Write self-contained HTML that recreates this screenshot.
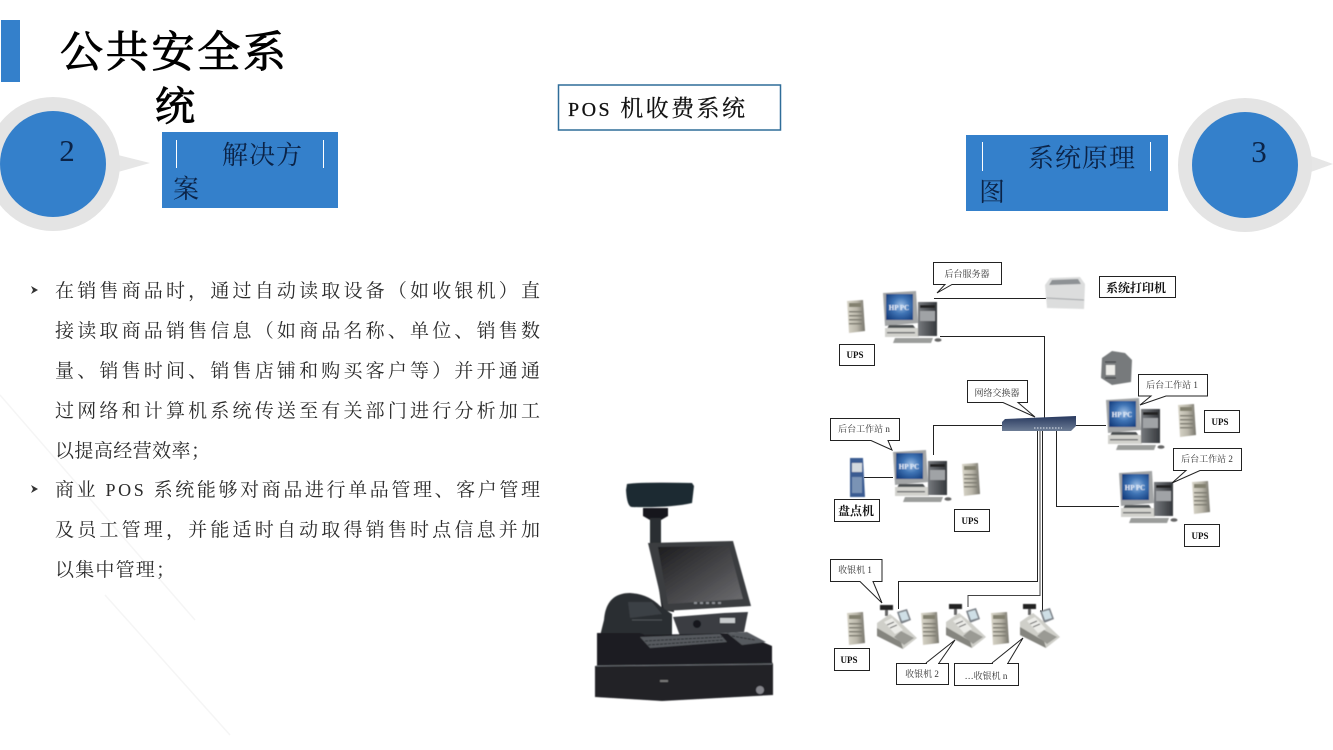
<!DOCTYPE html>
<html lang="zh">
<head>
<meta charset="utf-8">
<title>POS 机收费系统</title>
<style>
html,body{margin:0;padding:0;background:#fff;width:1333px;height:750px;overflow:hidden}
svg{display:block}
text{font-family:"Liberation Serif","Noto Serif CJK SC",serif}
.b{font-size:19px;fill:#2b2b2b}
.l{font-size:9px;fill:#333;text-anchor:middle}
.u{font-size:9px;fill:#111;text-anchor:middle;font-weight:700}
.k{fill:#fff;stroke:#222;stroke-width:1}
.w{fill:none;stroke:#222;stroke-width:1}
.h{font-size:26px;fill:#0b2347}
.hp{font-size:7px;fill:#e8f0fa;font-weight:700;text-anchor:middle}
</style>
</head>
<body>
<svg width="1333" height="750" viewBox="0 0 1333 750" xmlns="http://www.w3.org/2000/svg">
<defs>
<filter id="sf" x="-5%" y="-5%" width="110%" height="110%"><feGaussianBlur stdDeviation="0.45"/></filter>
<radialGradient id="scr" cx=".55" cy=".45" r=".7"><stop offset="0" stop-color="#9fc0e6"/><stop offset=".45" stop-color="#3f74b5"/><stop offset="1" stop-color="#123a7a"/></radialGradient>
<linearGradient id="gry" x1="0" y1="0" x2="1" y2="0"><stop offset="0" stop-color="#d9d6c9"/><stop offset=".55" stop-color="#b9b6a9"/><stop offset="1" stop-color="#77756c"/></linearGradient>
<linearGradient id="lcd" x1="0" y1="0" x2="1" y2="1"><stop offset="0" stop-color="#1d1d1f"/><stop offset=".6" stop-color="#4c4c4f"/><stop offset="1" stop-color="#6f6f72"/></linearGradient>
<linearGradient id="twr" x1="0" y1="0" x2="1" y2="0"><stop offset="0" stop-color="#777a7e"/><stop offset="1" stop-color="#35383c"/></linearGradient>
<linearGradient id="sw" x1="0" y1="0" x2="0" y2="1"><stop offset="0" stop-color="#27385e"/><stop offset="1" stop-color="#6d7d96"/></linearGradient>
<symbol id="pc" width="58" height="54" viewBox="0 0 58 54" overflow="visible">
<path d="M0 2 33 0 35 32 2 35Z" fill="#a3a5a6"/>
<rect x="3" y="3" width="27" height="26" fill="url(#scr)"/>
<text class="hp" x="16" y="19">HP PC</text>
<path d="M6 34H30L33 38H4Z" fill="#4e5153"/>
<rect x="2" y="37" width="34" height="9" fill="#d2d2cd"/>
<rect x="4" y="41" width="28" height="1.500" fill="#6f7172"/>
<rect x="35" y="11" width="19" height="34" fill="url(#twr)"/>
<rect x="37" y="14" width="15" height="3" fill="#222"/>
<rect x="37" y="20" width="15" height="10" fill="#a0a3a6"/>
<path d="M12 47H50L48 52H10Z" fill="#9b9d9b"/>
<ellipse cx="55" cy="49" rx="3.500" ry="1.800" fill="#666"/>
</symbol>
<symbol id="ups" width="20" height="33" viewBox="0 0 20 33" overflow="visible">
<path d="M1 1 17 0 19 31 3 33Z" fill="url(#gry)"/>
<rect x="3" y="3" width="12" height="4" fill="#83816f"/>
<rect x="3" y="11" width="13" height="1.500" fill="#7f7d72"/>
<rect x="3" y="15" width="13" height="1.500" fill="#7f7d72"/>
<rect x="3" y="19" width="13" height="1.500" fill="#7f7d72"/>
<rect x="3" y="23" width="13" height="1.500" fill="#7f7d72"/>
</symbol>
<symbol id="reg" width="42" height="44" viewBox="0 0 42 44" overflow="visible">
<rect x="4" y="0" width="13" height="5" fill="#222"/>
<rect x="9" y="5" width="3" height="6" fill="#666"/>
<path d="M21 7 31 4 35 15 25 19Z" fill="#7f848a"/>
<path d="M23 8 30 6 33 14 26 16Z" fill="#cfdfe6"/>
<path d="M1 18 14 9 24 17 41 33 27 44 1 31Z" fill="#cfcfc9"/>
<path d="M1 23 25 37 27 44 1 31Z" fill="#85857f"/>
<path d="M8 17 16 13 27 25 19 29Z" fill="#ecece8"/>
<path d="M25 26 38 33 28 40 18 32Z" fill="#9a9a94"/>
<path d="M11 20 18 17M14 23 21 20" stroke="#666" stroke-width="1"/>
</symbol>
</defs>

<!-- faint background lines -->
<path d="M0 395 195 620M105 595 230 735" stroke="#f5f5f5" stroke-width="1.500" fill="none"/>

<!-- title -->
<rect x="1" y="20" width="19" height="62" fill="#3480cb"/>
<text x="60" y="67" font-size="43" fill="#000" stroke="#000" stroke-width="1" textLength="226" lengthAdjust="spacing">公共安全系</text>
<text x="155" y="120" font-size="40" fill="#000" stroke="#000" stroke-width="1">统</text>

<!-- left badge -->
<path d="M118 155 150 163 118 172Z" fill="#e6e6e6"/>
<circle cx="53" cy="164" r="67" fill="#e4e4e4"/>
<circle cx="53" cy="164" r="53" fill="#3480cb"/>
<text x="67" y="161" font-size="31" fill="#0b2347" text-anchor="middle">2</text>
<rect x="162" y="132" width="176" height="76" fill="#3480cb"/>
<path d="M176.500 140V168M323.500 140V168" stroke="#fff" stroke-width="1"/>
<text x="222" y="164" class="h" textLength="80" lengthAdjust="spacing">解决方</text>
<text x="173" y="198" class="h">案</text>

<!-- right badge -->
<path d="M1308 155 1333 164 1308 173Z" fill="#e6e6e6"/>
<circle cx="1245" cy="165" r="67" fill="#e4e4e4"/>
<circle cx="1245" cy="165" r="53" fill="#3480cb"/>
<text x="1259" y="162" font-size="31" fill="#0b2347" text-anchor="middle">3</text>
<rect x="966" y="135" width="202" height="76" fill="#3480cb"/>
<path d="M982.500 142V171M1150.500 142V171" stroke="#fff" stroke-width="1"/>
<text x="1028" y="167" class="h" textLength="107" lengthAdjust="spacing">系统原理</text>
<text x="979" y="201" class="h">图</text>

<!-- POS title -->
<rect x="558.500" y="85" width="222" height="45" fill="#fff" stroke="#2f6d99" stroke-width="1.500"/>
<text x="568" y="116" font-size="23" fill="#111" stroke="#111" stroke-width=".25" textLength="177" lengthAdjust="spacing"><tspan font-size="20">POS</tspan> 机收费系统</text>

<!-- body text -->
<g>
<path d="M31 286 38 290 31 294 33 290Z" fill="#333"/>
<path d="M31 485 38 489 31 493 33 489Z" fill="#333"/>
<text class="b" x="55" y="297" textLength="485" lengthAdjust="spacing">在销售商品时，通过自动读取设备（如收银机）直</text>
<text class="b" x="55" y="337" textLength="485" lengthAdjust="spacing">接读取商品销售信息（如商品名称、单位、销售数</text>
<text class="b" x="55" y="377" textLength="485" lengthAdjust="spacing">量、销售时间、销售店铺和购买客户等）并开通通</text>
<text class="b" x="55" y="417" textLength="485" lengthAdjust="spacing">过网络和计算机系统传送至有关部门进行分析加工</text>
<text class="b" x="55" y="457" textLength="155" lengthAdjust="spacing">以提高经营效率；</text>
<text class="b" x="55" y="496" textLength="485" lengthAdjust="spacing">商业 <tspan font-size="18">POS</tspan> 系统能够对商品进行单品管理、客户管理</text>
<text class="b" x="55" y="536" textLength="485" lengthAdjust="spacing">及员工管理，并能适时自动取得销售时点信息并加</text>
<text class="b" x="55" y="576" textLength="120" lengthAdjust="spacing">以集中管理；</text>
</g>

<!-- POS machine -->
<g filter="url(#sf)">
<path d="M627 484Q640 482 692 483L694 486 692 503Q670 508 632 507 627 507 626 490Z" fill="#1f2c33"/>
<path d="M643 508H668V516L661 520H650L643 516Z" fill="#17191b"/>
<rect x="650" y="518" width="11" height="26" fill="#2a2d30"/>
<path d="M653 548 662 610 674 612 670 548Z" fill="#16181a"/>
<path d="M648 543 733 541 751 606 664 611Z" fill="#3a3d41"/>
<path d="M658 547 729 546 743 599 668 604Z" fill="url(#lcd)"/>
<path d="M694 603H722" stroke="#8a8d92" stroke-width="2" stroke-dasharray="3 3"/>
<path d="M604 620Q606 593 630 593 648 594 660 606L672 614 672 636H600Z" fill="#2a2d31"/>
<path d="M628 602 652 602 662 614 630 618Z" fill="#3b3f44"/>
<path d="M632 620H662" stroke="#50545a"/>
<path d="M673 617 724 613 748 612 744 632 680 636Z" fill="#3a3e43"/>
<rect x="720" y="618" width="15" height="5" fill="#c9ccce"/>
<circle cx="697" cy="624" r="4" fill="#14161a"/>
<path d="M597 633 640 633 645 635 741 633 772 646 772 665 597 668Z" fill="#1c1e21"/>
<path d="M640 637 720 634 727 642 650 648Z" fill="#565a5f"/>
<path d="M727 633 747 632 766 642 742 645Z" fill="#565a5f"/>
<path d="M645 641 722 637M648 645 724 640M732 636 755 640" stroke="#2b2e32" stroke-width="1" stroke-dasharray="3 1" fill="none"/>
<path d="M595 666 772 662 773 664 773 695 662 701 595 697Z" fill="#222428"/>
<path d="M596 666 772 664" stroke="#6a6e73" fill="none"/>
<rect x="660" y="680" width="8" height="2" fill="#777"/>
<circle cx="760" cy="690" r="4" fill="#86868c"/>
</g>

<!-- network lines -->
<g fill="none" stroke="#222" stroke-width="1">
<path d="M934 298.500H1046"/>
<path d="M940 336.500H1044.500V425"/>
<path d="M933.500 455V425.500H1002"/>
<path d="M1076 425.500H1106"/>
<path d="M1056.500 431V506.500H1119"/>
<path d="M1037.500 431V581.500H898.500V609"/>
<path d="M1040 431V595.500H968V607" stroke="#444"/>
<path d="M1042.500 431V611H1040"/>
<path d="M864 477.500H893"/>
</g>

<!-- switch -->
<path d="M1005 419 1076 416 1076 426 1071 431H1002V422Z" fill="url(#sw)"/>
<path d="M1034 428H1062" stroke="#e4e8ef" stroke-dasharray="1.500 1.500"/>

<!-- devices -->
<g filter="url(#sf)">
<use href="#pc" x="883" y="291"/>
<use href="#ups" x="846" y="300"/>
<use href="#pc" x="1106" y="398"/>
<use href="#ups" x="1177" y="404"/>
<use href="#pc" x="893" y="450"/>
<use href="#ups" x="961" y="463"/>
<use href="#pc" x="1119" y="471"/>
<use href="#ups" x="1191" y="481"/>
<use href="#ups" x="846" y="612"/>
<use href="#ups" x="920" y="612"/>
<use href="#ups" x="990" y="612"/>
<use href="#reg" x="876" y="605"/>
<use href="#reg" x="945" y="604"/>
<use href="#reg" x="1019" y="604"/>
<!-- printer -->
<path d="M1045 285 1050 278 1080 277 1085 284 1084 309 1047 308Z" fill="#dcdddd"/>
<path d="M1052 280 1078 279 1081 284 1049 285Z" fill="#8e9295"/>
<path d="M1046 298 1084 300" stroke="#a0a3a6"/>
<!-- barcode printer -->
<path d="M1102 358 1112 351 1125 353 1132 360 1131 382 1112 385 1101 378Z" fill="#777a7c"/>
<rect x="1106" y="365" width="9" height="10" fill="#ecece8"/>
<path d="M1105 362H1116M1105 378H1116" stroke="#2c2e30"/>
<!-- handheld -->
<path d="M850 458H863L865 497H850Z" fill="#3a5c92"/>
<rect x="852" y="463" width="10" height="9" fill="#d3d9de"/>
<rect x="852" y="477" width="10" height="16" fill="#7a93b5"/>
</g>

<!-- callouts -->
<path class="k" d="M933.500 262.500H1001.500V284.500H952L937 293 945 284.500H933.500Z"/>
<text class="l" x="967" y="277">后台服务器</text>
<path class="k" d="M967.500 380.500H1027.500V402.500H1018L1035 417 1003 402.500H967.500Z"/>
<text class="l" x="997" y="396">网络交换器</text>
<path class="k" d="M1138.500 374.500H1207.500V396H1166L1140 405 1151 396H1138.500Z"/>
<text class="l" x="1172" y="388">后台工作站 1</text>
<path class="k" d="M830.500 418.500H899.500V440.500H888L892 450 871 440.500H830.500Z"/>
<text class="l" x="864" y="432">后台工作站 n</text>
<path class="k" d="M1173.500 448.500H1241.500V470.500H1200L1172 483 1186 470.500H1173.500Z"/>
<text class="l" x="1207" y="462">后台工作站 2</text>
<path class="k" d="M830.500 559.500H882V581.500H873L882 603 860 581.500H830.500Z"/>
<text class="l" x="855" y="573">收银机 1</text>
<path class="k" d="M896.500 663.500H948.500V684.500H896.500Z"/>
<path class="w" d="M926 663 955 640 939 663"/>
<path d="M927 663.500H938" stroke="#fff" stroke-width="2"/>
<text class="l" x="922" y="677">收银机 2</text>
<path class="k" d="M954.500 663.500H1018.500V685.500H954.500Z"/>
<path class="w" d="M992 663 1023 638 1008 663"/>
<path d="M993 663.500H1007" stroke="#fff" stroke-width="2"/>
<text class="l" x="986" y="679">…收银机 n</text>

<!-- labels -->
<rect class="k" x="839.500" y="344.500" width="35" height="21"/>
<text class="u" x="855" y="358">UPS</text>
<rect class="k" x="1204.500" y="410.500" width="35" height="22"/>
<text class="u" x="1220" y="425">UPS</text>
<rect class="k" x="954.500" y="509.500" width="35" height="22"/>
<text class="u" x="970" y="524">UPS</text>
<rect class="k" x="1184.500" y="524.500" width="35" height="22"/>
<text class="u" x="1200" y="539">UPS</text>
<rect class="k" x="834.500" y="648.500" width="35" height="22"/>
<text class="u" x="849" y="663">UPS</text>
<rect class="k" x="1099.500" y="276.500" width="76" height="21"/>
<text class="u" x="1136" y="292" style="font-size:12px">系统打印机</text>
<rect class="k" x="834.500" y="499.500" width="45" height="22"/>
<text class="u" x="856" y="515" style="font-size:12px">盘点机</text>
</svg>
</body>
</html>
